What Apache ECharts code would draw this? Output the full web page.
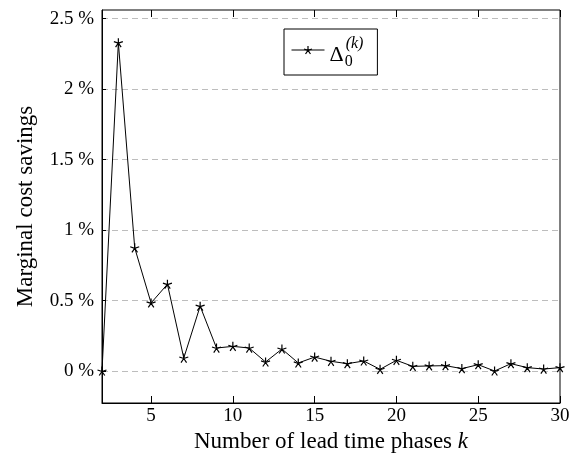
<!DOCTYPE html>
<html><head><meta charset="utf-8">
<script src="https://cdn.jsdelivr.net/npm/echarts@6/dist/echarts.min.js"></script>
<style>html,body{margin:0;padding:0;background:#fff}#c{width:574px;height:460px}</style>
</head><body><div id="c"></div>
<script>
const kValues = [2,3,4,5,6,7,8,9,10,11,12,13,14,15,16,17,18,19,20,21,22,23,24,25,26,27,28,29,30];
const savings = [0.0,2.33,0.874,0.483,0.616,0.092,0.46,0.163,0.175,0.163,0.064,0.156,0.057,0.099,0.069,0.052,0.071,0.012,0.076,0.033,0.036,0.038,0.017,0.045,0.0,0.052,0.024,0.014,0.024];
const xTicks = [5,10,15,20,25,30];
const yTicks = [0,0.5,1,1.5,2,2.5];
const seriesName = 'delta';

const FONT = 'Liberation Serif';
const star = 'path://M0,-10L0,0M9.51,-3.09L0,0M5.88,8.09L0,0M-5.88,8.09L0,0M-9.51,-3.09L0,0';

const chart = echarts.init(document.getElementById('c'), null, {renderer:'canvas'});
chart.setOption({
  animation:false,
  backgroundColor:'#fff',
  grid:{left:102,right:14,top:10,bottom:57,show:true,borderColor:'#000',borderWidth:1,backgroundColor:'transparent'},
  legend:{
    show:true,left:284,top:29,
    padding:[7,14,5,7],
    borderColor:'#000',borderWidth:1,borderRadius:0,
    itemWidth:33,itemHeight:10,
    lineStyle:{width:1,color:'#000'},
    itemStyle:{color:'transparent',borderColor:'#000',borderWidth:1.2},
    data:[{name:seriesName}],
    formatter:()=>'{d|Δ}{sub|0}{sup|(k)}',
    textStyle:{
      fontFamily:FONT,color:'#000',
      rich:{
        d:{fontFamily:FONT,fontSize:22,color:'#000',padding:[10,0,0,0]},
        sub:{fontFamily:FONT,fontSize:16,color:'#000',width:0,padding:[24,0,0,1]},
        sup:{fontFamily:FONT,fontSize:16,fontStyle:'italic',color:'#000',padding:[0,0,12,1]}
      }
    }
  },
  xAxis:[{
    type:'value',min:2,max:30,
    name:'Number of lead time phases {i|k}',nameLocation:'middle',nameGap:25,
    nameTextStyle:{fontFamily:FONT,fontSize:23,color:'#000',
      rich:{i:{fontFamily:FONT,fontSize:23,fontStyle:'italic',color:'#000'}}},
    axisLine:{show:true,onZero:false,lineStyle:{color:'#000',width:1}},
    axisTick:{show:true,inside:true,length:7,customValues:xTicks,lineStyle:{color:'#000'}},
    axisLabel:{customValues:xTicks,fontFamily:FONT,fontSize:19,color:'#000',margin:4},
    splitLine:{show:false}
  },{
    type:'value',min:2,max:30,position:'top',
    axisLine:{show:false,onZero:false},
    axisTick:{show:true,inside:true,length:7,customValues:xTicks,lineStyle:{color:'#000'}},
    axisLabel:{show:false,customValues:xTicks},
    splitLine:{show:false}
  }],
  yAxis:{
    type:'value',min:-0.227,max:2.562,
    name:'Marginal cost savings',nameLocation:'middle',nameGap:65,nameRotate:90,
    nameTextStyle:{fontFamily:FONT,fontSize:23,color:'#000'},
    axisLine:{show:true,onZero:false,lineStyle:{color:'#000'}},
    axisTick:{show:true,inside:true,length:4,customValues:yTicks,lineStyle:{color:'#000'}},
    axisLabel:{customValues:yTicks,fontFamily:FONT,fontSize:19,color:'#000',margin:8,
      formatter:v=>(Math.round(v*10)/10)+' %'},
    splitLine:{show:true,lineStyle:{color:'#bdbdbd',type:[6,4],width:1}}
  },
  series:[{
    name:seriesName,type:'line',xAxisIndex:0,
    data:kValues.map((k,i)=>[k,savings[i]]),
    symbol:star,symbolSize:9,showAllSymbol:true,
    lineStyle:{color:'#000',width:1},
    itemStyle:{color:'transparent',borderColor:'#000',borderWidth:1.2},
    emphasis:{disabled:true}
  }]
});
</script></body></html>
